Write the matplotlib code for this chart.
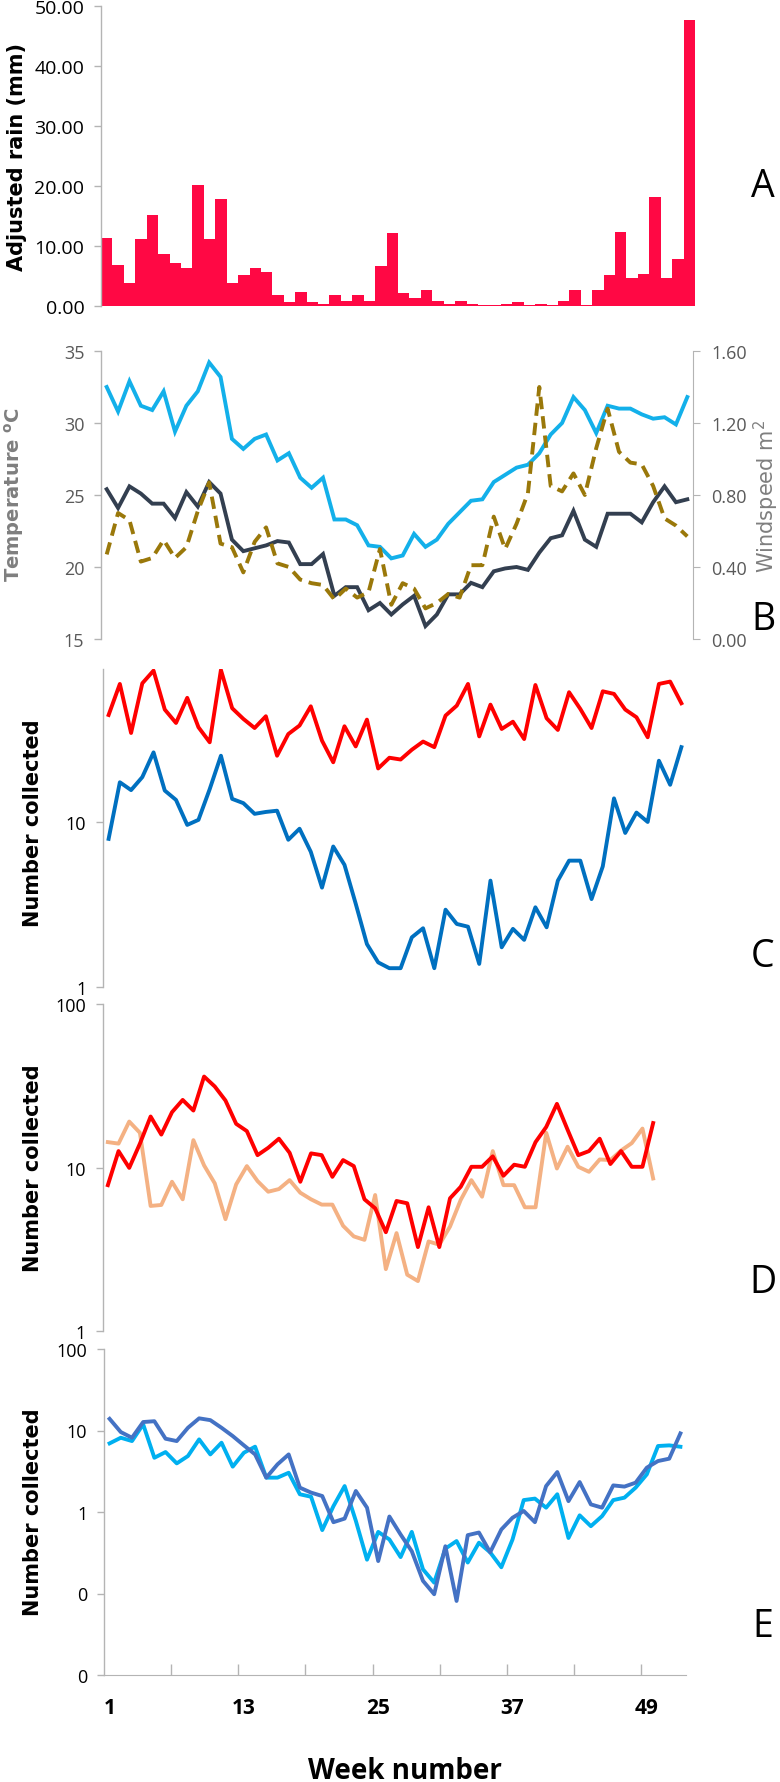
"""Weekly rain, temperature/wind and catch counts in five stacked panels (A-E)."""

import matplotlib

matplotlib.use("Agg")
import matplotlib.pyplot as plt
import numpy as np
from matplotlib import font_manager


W_PX, H_PX = 780, 1783

WEEKS = np.arange(1, 53)

# A: adjusted rain (mm)
RAIN = [11.3, 6.8, 3.8, 11.1, 15.2, 8.7, 7.1, 6.4, 20.2, 11.1, 17.9, 3.9, 5.1,
        6.4, 5.7, 1.8, 0.7, 2.4, 0.6, 0.4, 1.9, 0.9, 1.9, 0.8, 6.7, 12.2,
        2.1, 1.4, 2.7, 0.9, 0.4, 0.8, 0.3, 0.1, 0.1, 0.4, 0.6, 0.2, 0.4,
        0.1, 0.9, 2.6, 0.2, 2.6, 5.2, 12.4, 4.6, 5.4, 18.2, 4.6, 7.8, 47.7]

# B: max / min temperature (deg C) and windspeed
TMAX = [32.5, 30.8, 32.9, 31.2, 30.9, 32.2, 29.4, 31.2, 32.2, 34.2, 33.2, 28.9,
        28.2, 28.9, 29.2, 27.4, 27.9, 26.2, 25.5, 26.2, 23.3, 23.3, 22.9, 21.5,
        21.4, 20.6, 20.8, 22.3, 21.4, 21.9, 23.0, 23.8, 24.6, 24.7, 25.9, 26.4,
        26.9, 27.1, 27.9, 29.2, 30.0, 31.8, 30.9, 29.3, 31.2, 31.0, 31.0, 30.6,
        30.3, 30.4, 29.9, 31.8]
TMIN = [25.4, 24.1, 25.6, 25.1, 24.4, 24.4, 23.4, 25.2, 24.2, 25.9, 25.1, 21.9,
        21.1, 21.3, 21.5, 21.8, 21.7, 20.2, 20.2, 20.9, 18.0, 18.6, 18.6, 17.0,
        17.5, 16.7, 17.4, 18.0, 15.9, 16.7, 18.1, 18.1, 18.9, 18.6, 19.7, 19.9,
        20.0, 19.8, 21.0, 22.0, 22.2, 23.9, 21.9, 21.4, 23.7, 23.7, 23.7, 23.1,
        24.5, 25.6, 24.5, 24.7]
WIND = [0.47, 0.70, 0.66, 0.43, 0.45, 0.55, 0.45, 0.51, 0.71, 0.87, 0.53, 0.51,
        0.37, 0.54, 0.62, 0.42, 0.40, 0.33, 0.31, 0.30, 0.22, 0.28, 0.23, 0.26,
        0.50, 0.19, 0.31, 0.28, 0.17, 0.20, 0.25, 0.23, 0.41, 0.41, 0.68, 0.50,
        0.64, 0.81, 1.40, 0.85, 0.82, 0.92, 0.80, 1.06, 1.28, 1.04, 0.98, 0.97,
        0.85, 0.67, 0.63, 0.57]

# C: number collected (log scale)
C_RED = [44.5, 68.6, 34.6, 69.2, 82.6, 48.0, 39.8, 56.5, 37.5, 30.4, 83.4, 48.9,
         42.1, 37.1, 43.7, 25.2, 34.1, 38.4, 50.2, 31.1, 23.0, 38.0, 28.7, 41.7,
         21.1, 24.5, 23.9, 27.4, 30.7, 28.4, 44.1, 50.7, 68.6, 33.0, 51.4, 36.6,
         40.5, 31.8, 67.6, 42.5, 36.1, 61.1, 48.4, 37.1, 61.9, 59.7, 48.0, 43.1,
         32.6, 68.6, 70.9, 52.4]
C_BLUE = [7.9, 17.4, 15.6, 18.7, 26.4, 15.5, 13.6, 9.6, 10.3, 15.8, 25.2, 13.8,
          13.0, 11.2, 11.5, 11.7, 7.8, 9.1, 6.6, 4.0, 7.1, 5.5, 3.2, 1.82,
          1.41, 1.30, 1.30, 2.0, 2.27, 1.30, 2.94, 2.41, 2.32, 1.38, 4.41, 1.74,
          2.25, 1.93, 3.04, 2.30, 4.41, 5.83, 5.83, 3.41, 5.38, 13.9, 8.58, 11.4,
          10.0, 23.5, 16.8, 28.4]

# D: number collected (log scale)
D_RED = [7.8, 12.6, 9.95, 14.0, 20.5, 15.9, 21.8, 25.9, 22.3, 36.0, 31.3, 25.7,
         18.5, 16.7, 11.9, 13.2, 15.0, 12.3, 8.18, 12.2, 11.9, 8.77, 11.1, 10.2,
         6.39, 5.63, 4.02, 6.24, 6.04, 3.26, 5.71, 3.26, 6.48, 7.62, 10.1, 10.1,
         11.7, 8.9, 10.4, 10.1, 14.3, 17.7, 24.5, 17.0, 11.9, 12.6, 15.0, 10.5,
         12.6, 10.1, 10.1, 18.7]
D_ORANGE = [14.3, 14.0, 19.1, 16.3, 5.82, 5.90, 8.18, 6.39, 14.7, 10.3, 8.0, 4.83,
            7.88, 10.2, 8.26, 7.11, 7.38, 8.37, 7.01, 6.39, 5.93, 5.93, 4.40, 3.79,
            3.61, 6.79, 2.39, 3.97, 2.21, 2.02, 3.53, 3.37, 4.35, 6.33, 8.37, 6.63,
            12.6, 7.8, 7.8, 5.71, 5.71, 16.3, 9.86, 13.4, 10.1, 9.41, 11.2, 11.1,
            12.7, 14.1, 17.3, 8.57]

# E: number collected (log scale)
E_LIGHT = [6.95, 8.15, 7.42, 11.9, 4.63, 5.44, 3.95, 4.86, 7.78, 5.09, 7.08, 3.6,
           5.34, 6.33, 2.64, 2.64, 3.03, 1.65, 1.54, 0.60, 1.18, 2.08, 0.78, 0.26,
           0.57, 0.46, 0.28, 0.57, 0.198, 0.136, 0.355, 0.44, 0.24, 0.42, 0.32, 0.21,
           0.46, 1.40, 1.46, 1.13, 1.65, 0.48, 0.91, 0.67, 0.89, 1.40, 1.50, 1.99,
           2.90, 6.45, 6.57, 6.32]
E_DARK = [13.9, 9.57, 8.15, 12.7, 13.0, 7.93, 7.42, 10.8, 14.1, 13.4, 10.8, 8.55,
          6.57, 5.09, 2.64, 3.84, 5.09, 1.99, 1.73, 1.57, 0.75, 0.83, 1.81, 1.13,
          0.25, 0.88, 0.53, 0.33, 0.143, 0.098, 0.38, 0.081, 0.52, 0.56, 0.32, 0.61,
          0.85, 1.03, 0.75, 2.08, 3.09, 1.36, 2.33, 1.24, 1.13, 2.12, 2.05, 2.29,
          3.50, 4.22, 4.51, 9.21]

E_TICKS = [0.01, 0.1, 1, 10, 100]
E_TICK_LABELS = ["0", "0", "1", "10", "100"]
WEEK_LABELS = [1, 13, 25, 37, 49]

AXIS_GREY = "#B4B4B4"
TICK_GREY = "#595959"


def pick_font(candidates):
    names = {f.name for f in font_manager.fontManager.ttflist}
    for name in candidates:
        if name in names:
            return name
    return "DejaVu Sans"


NARROW = pick_font(["Liberation Sans Narrow", "Open Sans", "Lato"])
BOLD_SANS = "DejaVu Sans"


def px_axes(fig, left, top, right, bottom):
    return fig.add_axes([left / W_PX, 1 - bottom / H_PX,
                         (right - left) / W_PX, (bottom - top) / H_PX])


def style_axis(ax, left=True):
    for side in ("top", "right", "bottom"):
        ax.spines[side].set_visible(False)
    ax.spines["left"].set_visible(left)
    ax.spines["left"].set_color(AXIS_GREY)
    ax.spines["left"].set_linewidth(1.0)
    ax.tick_params(axis="y", which="major", direction="out", length=5, width=1,
                   color=AXIS_GREY, labelsize=13, pad=7)
    ax.tick_params(axis="y", which="minor", length=0)
    ax.tick_params(axis="x", which="both", length=0, labelbottom=False)
    ax.set_xlim(0.5, 52.5)
    ax.set_facecolor("none")
    for lab in ax.get_yticklabels():
        lab.set_family(NARROW)


def ylabel(fig, x, y, text, color="black", weight="bold", size=14):
    fig.text(x / W_PX, 1 - y / H_PX, text, rotation=90, ha="center", va="center",
             color=color, fontweight=weight, fontsize=size, family=BOLD_SANS)


def letter(fig, y, text):
    fig.text(763 / W_PX, 1 - y / H_PX, text, ha="center", va="center",
             fontsize=27, family=NARROW)


def main():
    fig = plt.figure(figsize=(W_PX / 100, H_PX / 100), dpi=100)

    # A - rain bars
    ax_a = px_axes(fig, 101, 7, 695, 307)
    ax_a.bar(WEEKS, RAIN, width=1.0, color="#FF0844", edgecolor="none")
    ax_a.set_ylim(0, 50)
    ax_a.set_yticks([0, 10, 20, 30, 40, 50])
    ax_a.set_yticklabels([f"{v:.2f}" for v in [0, 10, 20, 30, 40, 50]])
    style_axis(ax_a)
    ax_a.tick_params(axis="y", labelsize=14)
    ylabel(fig, 17, 157, "Adjusted rain (mm)", size=15)
    letter(fig, 187, "A")

    # B - temperature + windspeed
    ax_b = px_axes(fig, 101, 352, 693, 640)
    ax_b.plot(WEEKS, TMAX, color="#13B0EA", lw=2.8, solid_joinstyle="miter")
    ax_b.plot(WEEKS, TMIN, color="#333F50", lw=2.8, solid_joinstyle="miter")
    ax_b.set_ylim(15, 35)
    ax_b.set_yticks([15, 20, 25, 30, 35])
    style_axis(ax_b)
    ax_b.tick_params(axis="y", labelcolor=TICK_GREY)
    ax_w = ax_b.twinx()
    ax_w.plot(WEEKS, WIND, color="#9A780A", lw=2.8, linestyle=(0, (3.2, 1.8)))
    ax_w.set_ylim(0, 1.6)
    ax_w.set_yticks([0, 0.4, 0.8, 1.2, 1.6])
    ax_w.set_yticklabels([f"{v:.2f}" for v in [0, 0.4, 0.8, 1.2, 1.6]])
    for side in ("top", "left", "bottom"):
        ax_w.spines[side].set_visible(False)
    ax_w.spines["right"].set_color(AXIS_GREY)
    ax_w.tick_params(axis="y", direction="out", length=5, color=AXIS_GREY,
                     labelsize=13, labelcolor=TICK_GREY, pad=8)
    for lab in ax_w.get_yticklabels():
        lab.set_family(NARROW)
    ylabel(fig, 14, 495, r"Temperature $^{\mathbf{o}}$C", color="#7F7F7F", size=14)
    ylabel(fig, 766, 496, r"Windspeed m$^{2}$", color="#7F7F7F", weight="normal", size=15)
    letter(fig, 620, "B")

    # C
    ax_c = px_axes(fig, 103, 670, 687, 988)
    ax_c.plot(WEEKS, C_RED, color="#FF0000", lw=2.8)
    ax_c.plot(WEEKS, C_BLUE, color="#0070C0", lw=2.8)
    ax_c.set_yscale("log")
    ax_c.set_ylim(1, 84.5)
    ax_c.set_yticks([1, 10])
    ax_c.set_yticklabels(["1", "10"])
    style_axis(ax_c)
    ylabel(fig, 33, 823, "Number collected", size=15)
    letter(fig, 957, "C")

    # D
    ax_d = px_axes(fig, 102.5, 1005, 658.5, 1332)
    ax_d.plot(WEEKS, D_ORANGE, color="#F4B183", lw=2.8)
    ax_d.plot(WEEKS, D_RED, color="#FF0000", lw=2.8)
    ax_d.set_yscale("log")
    ax_d.set_ylim(1, 100)
    ax_d.set_yticks([1, 10, 100])
    ax_d.set_yticklabels(["1", "10", "100"])
    style_axis(ax_d)
    ylabel(fig, 33, 1168, "Number collected", size=15)
    letter(fig, 1283, "D")

    # E
    ax_e = px_axes(fig, 104, 1350, 686, 1676)
    ax_e.plot(WEEKS, E_LIGHT, color="#00B0F0", lw=2.8)
    ax_e.plot(WEEKS, E_DARK, color="#4472C4", lw=2.8)
    ax_e.set_yscale("log")
    ax_e.set_ylim(0.01, 100)
    ax_e.set_yticks(E_TICKS)
    ax_e.set_yticklabels(E_TICK_LABELS)
    style_axis(ax_e)
    ax_e.spines["bottom"].set_visible(True)
    ax_e.spines["bottom"].set_color(AXIS_GREY)
    ax_e.set_xticks(np.arange(6.5, 52, 6))
    ax_e.set_xticks(WEEK_LABELS, minor=True)
    ax_e.set_xticklabels([str(w) for w in WEEK_LABELS], minor=True)
    ax_e.tick_params(axis="x", which="major", direction="in", length=8, width=1,
                     color=AXIS_GREY, labelbottom=False)
    ax_e.tick_params(axis="x", which="minor", length=0, pad=16, labelbottom=True,
                     labelsize=15)
    for lab in ax_e.get_xticklabels(minor=True):
        lab.set_family(NARROW)
        lab.set_fontweight("bold")
    ylabel(fig, 33, 1512, "Number collected", size=15)
    letter(fig, 1627, "E")

    fig.text(405 / W_PX, 1 - 1772 / H_PX, "Week number", ha="center", va="center",
             fontsize=20, fontweight="bold", family=NARROW)

    fig.savefig("out.png", dpi=100)
    plt.close(fig)


if __name__ == "__main__":
    main()
